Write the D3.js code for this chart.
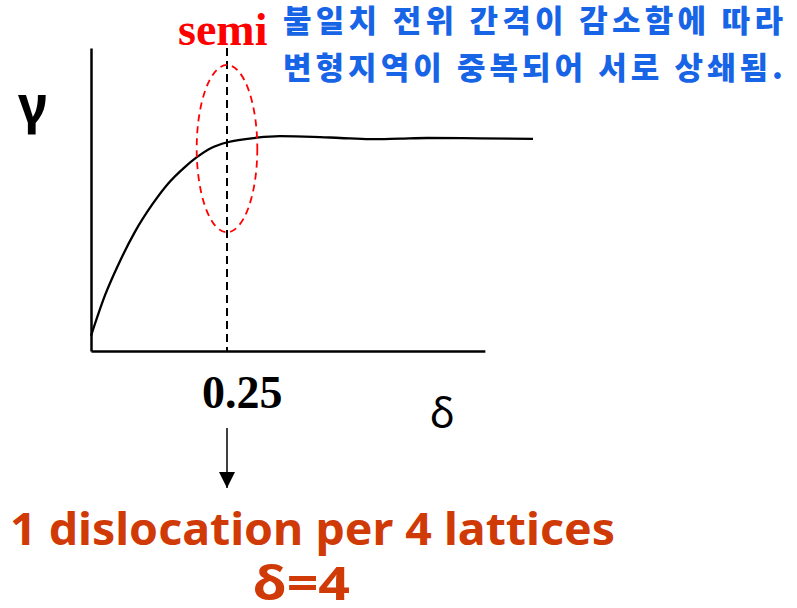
<!DOCTYPE html>
<html>
<head>
<meta charset="utf-8">
<script src="https://cdn.jsdelivr.net/npm/d3@7"></script>
<style>
  body { margin: 0; background: #fff; }
  svg { display: block; }
</style>
</head>
<body>
<div id="chart"></div>
<script>
// curve of gamma versus delta
const deltaValues = [0, 0.026, 0.05, 0.081, 0.112, 0.142, 0.173, 0.194, 0.222, 0.251, 0.305, 0.347, 0.408, 0.458, 0.513, 0.568, 0.618, 0.715, 0.8125];
const gammaValues = [0.05, 0.185, 0.284, 0.394, 0.482, 0.553, 0.608, 0.639, 0.671, 0.689, 0.704, 0.709, 0.707, 0.703, 0.699, 0.701, 0.703, 0.702, 0.70];

const semiDelta = 0.25;          // dashed marker position
const tickLabels = ["0.25"];
const xAxisMax = 0.724;
const yAxisMax = 1;
const ellipse = { cx: 0.25, cy: 0.668, rx: 0.0557, ry: 0.276 };

const noteLines = ["불일치 전위 간격이 감소함에 따라", "변형지역이 중복되어 서로 상쇄됨."];
const bottomLines = ["1 dislocation per 4 lattices", "δ=4"];

const width = 797, height = 608;

const svg = d3.select("#chart")
    .append("svg")
    .attr("width", width)
    .attr("height", height);

// Scales
const x = d3.scaleLinear().domain([0, 1]).range([91, 635]);
const y = d3.scaleLinear().domain([0, 1]).range([351, 48]);

// Axes (plain lines, no ticks)
svg.append("g")
    .attr("transform", `translate(0,${y(0)})`)
    .call(d3.axisBottom(x.copy().domain([0, xAxisMax]).range([x(0), x(xAxisMax)]))
        .tickValues([]).tickSizeOuter(0))
    .select(".domain")
    .attr("stroke", "#000")
    .attr("stroke-width", 2.5);

svg.append("g")
    .attr("transform", `translate(${x(0)},0)`)
    .call(d3.axisLeft(y.copy().domain([0, yAxisMax]))
        .tickValues([]).tickSizeOuter(0))
    .select(".domain")
    .attr("stroke", "#000")
    .attr("stroke-width", 2.5);

// Curve
const points = deltaValues.map((d, i) => [d, gammaValues[i]]);
svg.append("path")
    .datum(points)
    .attr("fill", "none")
    .attr("stroke", "#000")
    .attr("stroke-width", 2.3)
    .attr("d", d3.line()
        .x(d => x(d[0]))
        .y(d => y(d[1]))
        .curve(d3.curveMonotoneX));

// Dashed vertical marker
svg.append("line")
    .attr("x1", x(semiDelta)).attr("x2", x(semiDelta))
    .attr("y1", y(1)).attr("y2", y(0))
    .attr("stroke", "#000")
    .attr("stroke-width", 2)
    .attr("stroke-dasharray", "8,5");

// Red dashed ellipse
svg.append("ellipse")
    .attr("cx", x(ellipse.cx))
    .attr("cy", y(ellipse.cy))
    .attr("rx", x(ellipse.rx) - x(0))
    .attr("ry", y(0) - y(ellipse.ry))
    .attr("fill", "none")
    .attr("stroke", "#ff0000")
    .attr("stroke-width", 1.8)
    .attr("stroke-dasharray", "7,5");

// Labels
svg.append("text")
    .attr("x", 178).attr("y", 45)
    .attr("font-family", "'Liberation Serif', serif")
    .attr("font-weight", "bold")
    .attr("font-size", 46)
    .attr("fill", "#ff0000")
    .text("semi");

svg.append("text")
    .attr("x", 18).attr("y", 123)
    .attr("font-family", "'Noto Sans', sans-serif")
    .attr("font-weight", "bold")
    .attr("font-size", 52)
    .text("γ");

svg.selectAll(".note")
    .data(noteLines)
    .enter()
    .append("text")
    .attr("class", "note")
    .attr("x", 283)
    .attr("y", (d, i) => 32 + i * 47)
    .attr("font-family", "'Noto Sans CJK KR', sans-serif")
    .attr("font-weight", 900)
    .attr("font-size", 31)
    .attr("fill", "#1764e6")
    .attr("textLength", 500)
    .attr("lengthAdjust", "spacing")
    .text(d => d);

svg.append("text")
    .attr("x", 202).attr("y", 408)
    .attr("font-family", "'Liberation Serif', serif")
    .attr("font-weight", "bold")
    .attr("font-size", 46)
    .text(tickLabels[0]);

svg.append("text")
    .attr("x", 430).attr("y", 428)
    .attr("font-family", "'Noto Sans', sans-serif")
    .attr("font-size", 42)
    .text("δ");

// Arrow
svg.append("defs").append("marker")
    .attr("id", "arrow")
    .attr("viewBox", "0 0 10 10")
    .attr("refX", 10).attr("refY", 5)
    .attr("markerWidth", 16).attr("markerHeight", 18)
    .attr("markerUnits", "userSpaceOnUse")
    .attr("orient", "auto")
    .append("path")
    .attr("d", "M0,0L10,5L0,10Z")
    .attr("fill", "#000");

svg.append("line")
    .attr("x1", x(semiDelta)).attr("x2", x(semiDelta))
    .attr("y1", 428).attr("y2", 488)
    .attr("stroke", "#000")
    .attr("stroke-width", 1.5)
    .attr("marker-end", "url(#arrow)");

svg.append("text")
    .attr("x", 10).attr("y", 545)
    .attr("font-family", "'Noto Sans', sans-serif")
    .attr("font-weight", "bold")
    .attr("font-size", 44)
    .attr("fill", "#cf3a06")
    .attr("textLength", 605)
    .attr("lengthAdjust", "spacingAndGlyphs")
    .text(bottomLines[0]);

svg.append("text")
    .attr("x", 253).attr("y", 600)
    .attr("font-family", "'Noto Sans', sans-serif")
    .attr("font-weight", "bold")
    .attr("font-size", 46)
    .attr("fill", "#cf3a06")
    .attr("textLength", 97)
    .attr("lengthAdjust", "spacingAndGlyphs")
    .text(bottomLines[1]);
</script>
</body>
</html>
